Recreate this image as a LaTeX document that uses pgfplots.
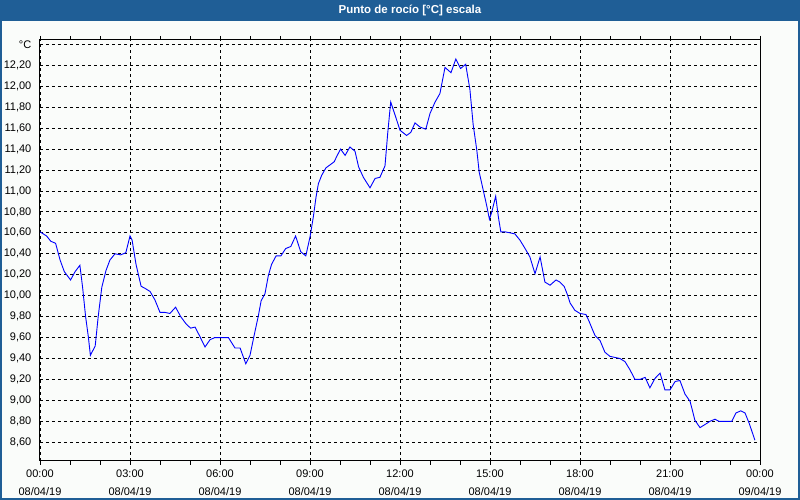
\documentclass[border=0pt]{standalone}
\usepackage{pgfplots}
\pgfplotsset{compat=1.18}
\usepackage{fontspec}
\setmainfont{Liberation Sans}
\definecolor{winblue}{RGB}{31,94,150}
\definecolor{winbg}{RGB}{250,252,250}

\begin{document}
\begin{tikzpicture}[x=1pt,y=1pt]
	\useasboundingbox (0pt,0pt) rectangle (800pt,500pt);
	\fill[winbg] (0pt,0pt) rectangle (800pt,500pt);
	% barra de titulo
	\fill[winblue] (0pt,479.3pt) rectangle (800pt,500pt);
	\draw[winblue, line width=2pt] (1pt,1pt) rectangle (799pt,499pt);
	\node[text=white, font=\bfseries\fontsize{11.5}{13}\selectfont] at (410pt,489.6pt) {Punto de rocío [°C] escala};

	\begin{axis}[
		at={(40pt,39pt)}, anchor=south west,
		scale only axis,
		width=720pt, height=421pt,
		xmin=0, xmax=24,
		ymin=8.421, ymax=12.442,
		axis line style={black, line width=1pt},
		grid=major,
		major grid style={black, line width=0.9pt, dash pattern=on 3pt off 3pt},
		xtick={0,3,...,24},
		minor xtick={0,1,...,24},
		tick align=outside,
		major tick length=4pt,
		minor tick length=4pt,
		xtick style={black, line width=0.9pt},
		xticklabels={{00:00\\08/04/19},{03:00\\08/04/19},{06:00\\08/04/19},{09:00\\08/04/19},{12:00\\08/04/19},{15:00\\08/04/19},{18:00\\08/04/19},{21:00\\08/04/19},{00:00\\09/04/19}},
		xticklabel style={align=center, inner sep=0pt, yshift=-5pt, font=\fontsize{11}{17.7}\selectfont},
		ytick={8.6,8.8,9.0,9.2,9.4,9.6,9.8,10.0,10.2,10.4,10.6,10.8,11.0,11.2,11.4,11.6,11.8,12.0,12.2,12.4},
		yticklabels={{8,60},{8,80},{9,00},{9,20},{9,40},{9,60},{9,80},{10,00},{10,20},{10,40},{10,60},{10,80},{11,00},{11,20},{11,40},{11,60},{11,80},{12,00},{12,20},°C},
		ytick style={draw=none},
		yticklabel style={inner sep=0pt, xshift=-4.5pt, font=\fontsize{11}{13}\selectfont},
		]
		\addplot[color=blue, line width=0.9pt] coordinates {
			(0.00,10.61) (0.22,10.57) (0.36,10.52) (0.52,10.50) (0.67,10.34)
			(0.81,10.23) (1.02,10.15) (1.17,10.23) (1.33,10.29) (1.42,10.08)
			(1.52,9.80) (1.61,9.61) (1.68,9.43) (1.84,9.52) (1.94,9.80)
			(2.06,10.08) (2.20,10.24) (2.33,10.34) (2.50,10.40) (2.69,10.39)
			(2.86,10.41) (3.00,10.57) (3.07,10.53) (3.20,10.30) (3.37,10.09)
			(3.50,10.07) (3.67,10.04) (3.83,9.96) (4.00,9.84) (4.17,9.84)
			(4.33,9.83) (4.52,9.89) (4.69,9.80) (4.87,9.73) (5.02,9.69)
			(5.17,9.70) (5.33,9.61) (5.50,9.51) (5.67,9.58) (5.83,9.60)
			(6.00,9.60) (6.28,9.60) (6.50,9.50) (6.67,9.50) (6.86,9.35)
			(7.00,9.43) (7.13,9.61) (7.28,9.81) (7.37,9.95) (7.50,10.02)
			(7.61,10.19) (7.72,10.30) (7.87,10.38) (8.03,10.38) (8.19,10.45)
			(8.36,10.47) (8.52,10.57) (8.69,10.42) (8.86,10.38) (9.00,10.56)
			(9.11,10.75) (9.20,10.94) (9.28,11.07) (9.39,11.15) (9.53,11.22)
			(9.67,11.25) (9.81,11.28) (9.89,11.33) (10.02,11.40) (10.17,11.34)
			(10.33,11.42) (10.50,11.38) (10.62,11.23) (10.78,11.13) (11.00,11.03)
			(11.17,11.12) (11.33,11.13) (11.50,11.24) (11.59,11.55) (11.69,11.85)
			(11.83,11.73) (12.00,11.58) (12.22,11.53) (12.36,11.56) (12.50,11.65)
			(12.67,11.61) (12.86,11.59) (13.00,11.74) (13.17,11.85) (13.33,11.93)
			(13.50,12.18) (13.70,12.13) (13.86,12.26) (14.02,12.17) (14.19,12.21)
			(14.33,11.97) (14.44,11.63) (14.56,11.39) (14.64,11.18) (14.78,11.00)
			(14.89,10.86) (14.98,10.73) (15.06,10.80) (15.19,10.95) (15.28,10.75)
			(15.36,10.61) (15.50,10.61) (15.67,10.60) (15.83,10.59) (16.00,10.53)
			(16.17,10.45) (16.33,10.37) (16.50,10.21) (16.67,10.37) (16.83,10.13)
			(17.00,10.10) (17.20,10.15) (17.33,10.13) (17.47,10.09) (17.58,10.01)
			(17.67,9.93) (17.83,9.86) (18.00,9.83) (18.20,9.82) (18.31,9.75)
			(18.41,9.68) (18.50,9.62) (18.67,9.57) (18.83,9.46) (19.00,9.42)
			(19.17,9.41) (19.33,9.40) (19.50,9.37) (19.67,9.29) (19.83,9.20)
			(20.00,9.20) (20.17,9.22) (20.33,9.12) (20.50,9.21) (20.67,9.26)
			(20.83,9.10) (21.00,9.10) (21.17,9.18) (21.33,9.19) (21.50,9.06)
			(21.67,8.99) (21.83,8.81) (22.00,8.74) (22.17,8.77) (22.33,8.80)
			(22.50,8.82) (22.63,8.80) (22.83,8.80) (23.06,8.80) (23.20,8.88)
			(23.36,8.90) (23.50,8.88) (23.64,8.78) (23.83,8.62)
		};
	\end{axis}
\end{tikzpicture}
\end{document}
